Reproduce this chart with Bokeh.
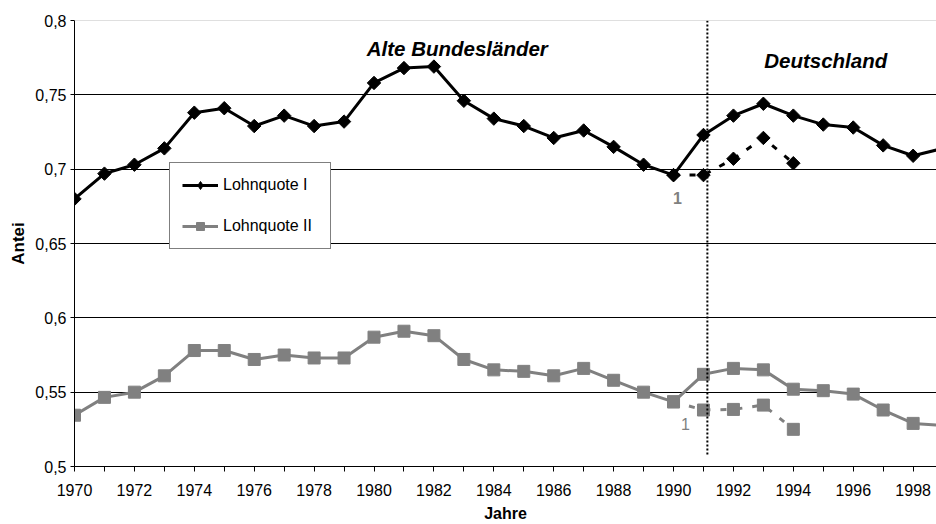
import numpy as np
from bokeh.plotting import figure
from bokeh.models import (Range1d, FixedTicker, CustomJSTickFormatter, Span,
                          Legend, LegendItem, ColumnDataSource)
from bokeh.core.properties import value
from bokeh.embed import file_html
from bokeh.resources import INLINE

# ---------------- data ----------------
years = list(range(1970, 2000))
lohnquote_1 = [0.680, 0.697, 0.703, 0.714, 0.738, 0.741, 0.729, 0.736, 0.729, 0.732,
               0.758, 0.768, 0.769, 0.746, 0.734, 0.729, 0.721, 0.726, 0.715, 0.703,
               0.696, 0.723, 0.736, 0.744, 0.736, 0.730, 0.728, 0.716, 0.709, 0.714]
lohnquote_2 = [0.5345, 0.5465, 0.550, 0.561, 0.578, 0.578, 0.572, 0.575, 0.573, 0.573,
               0.587, 0.591, 0.588, 0.572, 0.565, 0.564, 0.561, 0.566, 0.558, 0.550,
               0.5435, 0.562, 0.566, 0.565, 0.552, 0.551, 0.5487, 0.538, 0.529, 0.5275]
# alternative (dashed) series for 1990-1994
alt_years = [1990, 1991, 1992, 1993, 1994]
alt_lohnquote_1 = [0.696, 0.696, 0.707, 0.721, 0.704]
alt_lohnquote_2 = [0.5435, 0.538, 0.5384, 0.5413, 0.525]

x_start, x_end = 1970, 1998.78
y_start, y_end = 0.5, 0.8
y_ticks = [0.5, 0.55, 0.6, 0.65, 0.7, 0.75, 0.8]
grid_ticks = [0.55, 0.6, 0.65, 0.7, 0.75]
divider_year = 1991.13
divider_bottom = 0.507

region_labels = ["Alte Bundesländer", "Deutschland"]
region_x = [1982.78, 1995.08]
region_y = [0.7815, 0.7731]

note_x = [1990.13, 1990.40]
note_y = [0.6808, 0.5285]
note_text = ["1", "1"]

FONT = "Liberation Sans"
GREY = "#808080"

p = figure(width=936, height=524, output_backend="svg", toolbar_location=None,
           x_range=Range1d(x_start, x_end), y_range=Range1d(y_start, y_end),
           min_border_left=74, min_border_right=0, min_border_top=20,
           min_border_bottom=58)
p.outline_line_color = None
p.background_fill_color = "white"
p.border_fill_color = "white"

# grid
p.xgrid.visible = False
p.ygrid.ticker = FixedTicker(ticks=grid_ticks)
p.ygrid.grid_line_color = "black"
p.ygrid.grid_line_width = 1
p.add_layout(Span(location=y_end, dimension="width", line_color="#c0c0c0", line_width=1))

# axes
xa = p.xaxis[0]
xa.ticker = FixedTicker(ticks=years)
xa.formatter = CustomJSTickFormatter(code="return (Math.round(tick) % 2 == 0) ? String(Math.round(tick)) : '';")
xa.major_tick_out = 5
xa.major_tick_in = 0
xa.minor_tick_out = 0
xa.minor_tick_in = 0
xa.axis_line_color = "black"
xa.major_tick_line_color = "black"
xa.major_label_text_font = FONT
xa.major_label_text_font_size = "16px"
xa.major_label_text_color = "black"
xa.major_label_standoff = 12
xa.axis_label = "Jahre"
xa.axis_label_text_font = FONT
xa.axis_label_text_font_size = "16px"
xa.axis_label_text_font_style = "bold"
xa.axis_label_text_color = "black"
xa.axis_label_standoff = 6

ya = p.yaxis[0]
ya.ticker = FixedTicker(ticks=y_ticks)
ya.formatter = CustomJSTickFormatter(code="return tick.toFixed(2).replace(/0$/, '').replace('.', ',');")
ya.major_tick_out = 4
ya.major_tick_in = 0
ya.minor_tick_out = 0
ya.minor_tick_in = 0
ya.axis_line_color = "black"
ya.major_tick_line_color = "black"
ya.major_label_text_font = FONT
ya.major_label_text_font_size = "16px"
ya.major_label_text_color = "black"
ya.major_label_standoff = 4
ya.axis_label = "Antei"
ya.axis_label_text_font = FONT
ya.axis_label_text_font_size = "17px"
ya.axis_label_text_font_style = "bold"
ya.axis_label_text_color = "black"
ya.axis_label_standoff = 4

# series
src1 = ColumnDataSource(dict(x=years, y=lohnquote_1))
src2 = ColumnDataSource(dict(x=years, y=lohnquote_2))
alt1 = ColumnDataSource(dict(x=alt_years, y=alt_lohnquote_1))
alt2 = ColumnDataSource(dict(x=alt_years, y=alt_lohnquote_2))
first1 = ColumnDataSource(dict(x=years[:1], y=lohnquote_1[:1]))

# grey series II
l2 = p.line("x", "y", source=src2, line_color=GREY, line_width=3)
s2 = p.scatter("x", "y", source=src2, marker="square", size=12,
               fill_color=GREY, line_color=GREY)
p.line("x", "y", source=alt2, line_color=GREY, line_width=3, line_dash="6 10")
p.scatter("x", "y", source=alt2, marker="square", size=12,
          fill_color=GREY, line_color=GREY)

# black series I
l1 = p.line("x", "y", source=src1, line_color="black", line_width=3)
# diamond glyph used for the legend (hidden under the first rotated-square marker)
s1_leg = p.scatter("x", "y", source=first1, marker="diamond", size=12,
                   fill_color="black", line_color="black")
s1 = p.scatter("x", "y", source=src1, marker="square", angle=np.pi / 4, size=9.5,
               fill_color="black", line_color="black")
p.line("x", "y", source=alt1, line_color="black", line_width=3, line_dash="6 10")
p.scatter("x", "y", source=alt1, marker="square", angle=np.pi / 4, size=9.5,
          fill_color="black", line_color="black")

# divider
p.line([divider_year, divider_year], [y_end, divider_bottom], line_color="black",
       line_width=2, line_dash="2 2")

# texts
p.text(x=region_x, y=region_y, text=region_labels, text_font=value(FONT),
       text_font_size="20.5px", text_font_style="bold italic", text_color="black",
       text_align="center", text_baseline="middle")
p.text(x=note_x[:1], y=note_y[:1], text=note_text[:1], text_font=value(FONT),
       text_font_size="16px", text_font_style="bold", text_color=GREY,
       text_align="center", text_baseline="middle")
p.text(x=note_x[1:], y=note_y[1:], text=note_text[1:], text_font=value(FONT),
       text_font_size="16px", text_font_style="normal", text_color=GREY,
       text_align="center", text_baseline="middle")

legend = Legend(items=[LegendItem(label="Lohnquote I", renderers=[l1, s1_leg]),
                       LegendItem(label="Lohnquote II", renderers=[l2, s2])],
                location=(95, 217))
legend.border_line_color = "black"
legend.border_line_width = 1
legend.background_fill_color = "white"
legend.background_fill_alpha = 1
legend.label_text_font = FONT
legend.label_text_font_size = "16px"
legend.label_text_color = "black"
legend.padding = 12
legend.spacing = 21
legend.glyph_width = 36
legend.glyph_height = 20
legend.label_standoff = 5
legend.label_width = 95
legend.label_height = 20
legend.margin = 0
p.add_layout(legend)

open("out.html", "w").write(file_html(p, INLINE))
